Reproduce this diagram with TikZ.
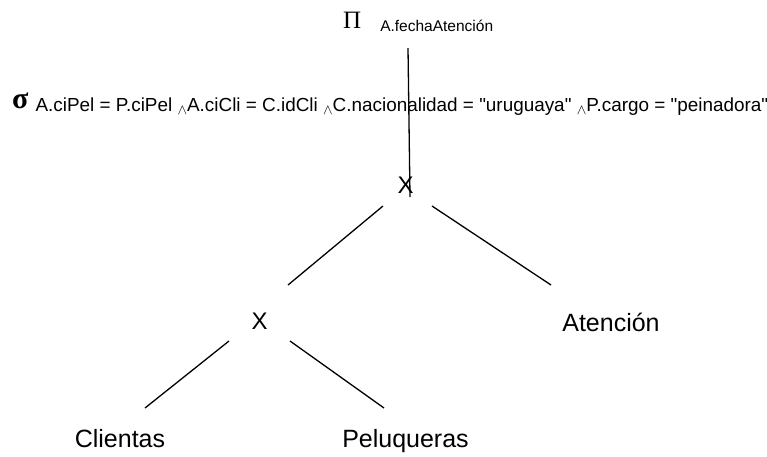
\documentclass[tikz,border=0pt]{standalone}
\usepackage{fontspec}
\setmainfont{Liberation Sans}[Ligatures=TeXOff]
\newfontfamily\opfont{Liberation Serif}
\newcommand{\andsym}{\raisebox{-3.5pt}{\fontsize{14}{14}\selectfont$\wedge$}}
\begin{document}
\begin{tikzpicture}[x=1pt,y=-1pt,
  leaf/.style={anchor=base,inner sep=0pt,font=\fontsize{25}{30}\selectfont},
  prod/.style={anchor=base,inner sep=0pt,font=\fontsize{24}{28}\selectfont},
  edge/.style={line width=1.3pt,black}]
\useasboundingbox (0,0) rectangle (767,456);

% projection and selection labels
\node[anchor=base west,inner sep=0pt] (proj) at (343,28)
  {{\opfont\fontsize{25}{28}\selectfont Π}\hspace{19pt}\raisebox{-3pt}{\fontsize{15.5}{18}\selectfont A.fechaAtención}};
\node[anchor=base west,inner sep=0pt] (sel) at (12,108)
  {{\opfont\bfseries\fontsize{30}{32}\selectfont σ}\hspace{7pt}\raisebox{-3pt}{\fontsize{18.9}{22}\selectfont A.ciPel = P.ciPel \andsym A.ciCli = C.idCli \andsym C.nacionalidad = "uruguaya" \andsym P.cargo = "peinadora"}};

% cartesian products and relations
\node[prod] (x1) at (405.5,193) {X};
\node[prod] (x2) at (259.5,329) {X};
\node[leaf] (at) at (611,331) {Atención};
\node[leaf] (cl) at (120,447) {Clientas};
\node[leaf] (pe) at (405.5,447) {Peluqueras};

% connector end points
\coordinate (vtop) at (408,48);
\coordinate (vbot) at (410,197);
\coordinate (x1l) at (383,206);
\coordinate (x2t) at (288,285);
\coordinate (x1r) at (432,206);
\coordinate (att) at (551,285);
\coordinate (x2l) at (229,341);
\coordinate (clt) at (145,408);
\coordinate (x2r) at (290,341);
\coordinate (pet) at (384,408);

\draw[edge] (vtop) -- (vbot);
\draw[edge] (x1l) -- (x2t);
\draw[edge] (x1r) -- (att);
\draw[edge] (x2l) -- (clt);
\draw[edge] (x2r) -- (pet);
\end{tikzpicture}
\end{document}
